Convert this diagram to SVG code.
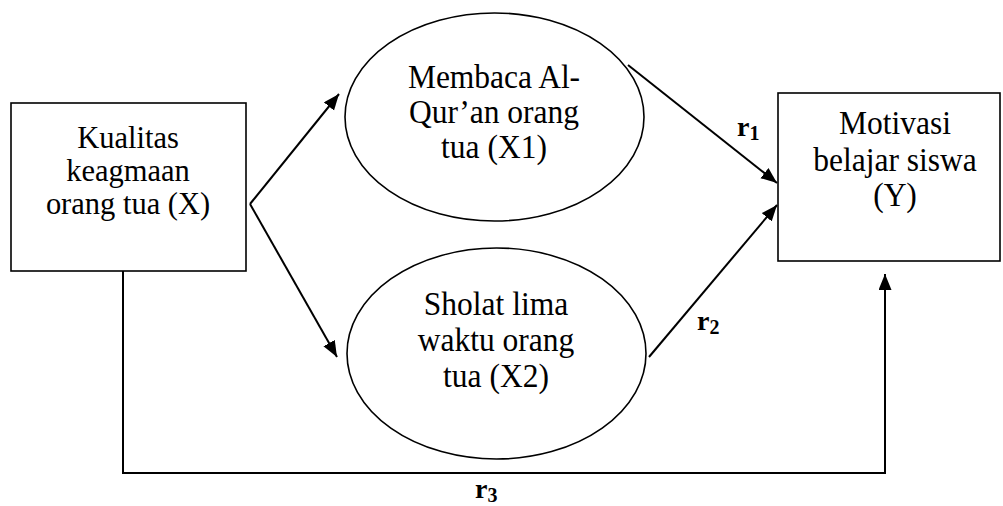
<svg xmlns="http://www.w3.org/2000/svg" width="1003" height="506" viewBox="0 0 1003 506">
  <style>
    .shape { fill: #ffffff; stroke: #000000; stroke-width: 1.6; }
    .conn { fill: none; stroke: #000000; stroke-width: 2; }
    .lbl { font-family: "Liberation Serif", "Times New Roman", serif; font-size: 31.5px; fill: #000000; text-anchor: middle; }
    .lbl-x { font-size: 30.5px; }
    .r { font-family: "Liberation Serif", "Times New Roman", serif; font-size: 28px; font-weight: bold; fill: #000000; }
    .sub { font-size: 20px; }
  </style>
  <defs>
    <marker id="arrow" markerUnits="userSpaceOnUse" markerWidth="18" markerHeight="14" refX="16" refY="6.5" orient="auto">
      <path d="M0,0 L16,6.5 L0,13 z" fill="#000000"/>
    </marker>
  </defs>
  <rect width="1003" height="506" fill="#ffffff"/>

  <g id="connectors">
    <path class="conn" d="M250,204 L339,94" marker-end="url(#arrow)"/>
    <path class="conn" d="M250,204 L337,357" marker-end="url(#arrow)"/>
    <path class="conn" d="M628,65 L777,183" marker-end="url(#arrow)"/>
    <path class="conn" d="M649,357 L777,205" marker-end="url(#arrow)"/>
    <path class="conn" d="M123,271 L123,473 L885,473 L885,274" marker-end="url(#arrow)"/>
  </g>

  <g id="node-x">
    <rect class="shape" x="11" y="103" width="235" height="168"/>
    <text class="lbl lbl-x" transform="translate(128,148) scale(1,1.05)">Kualitas</text>
    <text class="lbl lbl-x" transform="translate(128,181) scale(1,1.05)">keagmaan</text>
    <text class="lbl lbl-x" transform="translate(128,214) scale(1,1.05)">orang tua (X)</text>
  </g>

  <g id="node-x1">
    <ellipse class="shape" cx="494.5" cy="117" rx="149.5" ry="104"/>
    <text class="lbl" transform="translate(494,88) scale(1,1.05)">Membaca Al-</text>
    <text class="lbl" transform="translate(494,123) scale(1,1.05)">Qur’an orang</text>
    <text class="lbl" transform="translate(494,158) scale(1,1.05)">tua (X1)</text>
  </g>

  <g id="node-x2">
    <ellipse class="shape" cx="496.5" cy="353.5" rx="149.5" ry="105.5"/>
    <text class="lbl" transform="translate(496,315) scale(1,1.05)">Sholat lima</text>
    <text class="lbl" transform="translate(496,351) scale(1,1.05)">waktu orang</text>
    <text class="lbl" transform="translate(496,387) scale(1,1.05)">tua (X2)</text>
  </g>

  <g id="node-y">
    <rect class="shape" x="778" y="93" width="222" height="168"/>
    <text class="lbl" transform="translate(895,134) scale(1,1.05)">Motivasi</text>
    <text class="lbl" transform="translate(895,171) scale(1,1.05)">belajar siswa</text>
    <text class="lbl" transform="translate(895,206) scale(1,1.05)">(Y)</text>
  </g>

  <g id="labels">
    <text class="r" x="737" y="136">r<tspan class="sub" dy="4">1</tspan></text>
    <text class="r" x="697" y="330">r<tspan class="sub" dy="4">2</tspan></text>
    <text class="r" x="475" y="498">r<tspan class="sub" dy="4">3</tspan></text>
  </g>
</svg>
